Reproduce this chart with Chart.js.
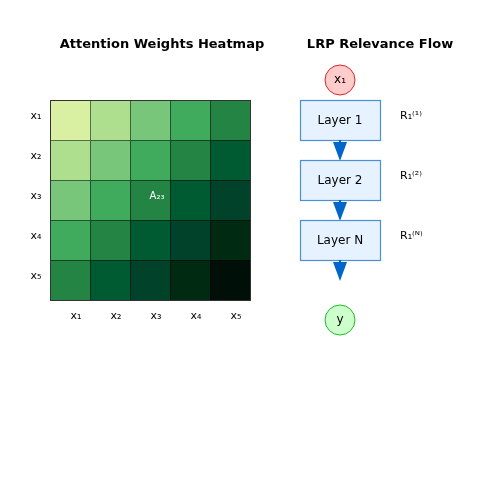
<!DOCTYPE html><html><head><meta charset="utf-8">
<script src="https://cdn.jsdelivr.net/npm/chart.js@4/dist/chart.umd.min.js"></script>
<style>html,body{margin:0;padding:0;background:#fff}#c{width:500px;height:500px;display:block}</style>
</head><body><canvas id="c" width="500" height="500"></canvas>
<script>
const tokens=['x₁','x₂','x₃','x₄','x₅'];
const weights=[[0,1,2,3,4],[1,2,3,4,5],[2,3,4,5,6],[3,4,5,6,7],[4,5,6,7,8]];
const palette=['#d9f0a3','#addf8e','#78c679','#41ab5d','#238443','#005a32','#00432a','#002a12','#000f08'];
const layers=['Layer 1','Layer 2','Layer N'];
const relevance=['R₁⁽¹⁾','R₁⁽²⁾','R₁⁽ᴺ⁾'];
const F='"DejaVu Sans", sans-serif';
const draw={id:'draw',afterDraw(ch){
 const c=ch.ctx,X=v=>ch.scales.x.getPixelForValue(v),Y=v=>ch.scales.y.getPixelForValue(v);
 c.save();
 c.fillStyle='#000';c.textAlign='center';c.textBaseline='middle';
 c.font='bold 13px '+F;c.fillText('Attention Weights Heatmap',X(162),Y(45));c.fillText('LRP Relevance Flow',X(380),Y(45));
 const x0=50,y0=100,s=40;
 for(let i=0;i<5;i++)for(let j=0;j<5;j++){
  c.fillStyle=palette[weights[i][j]];c.fillRect(X(x0+j*s),Y(y0+i*s),s,s);
  c.strokeStyle='rgba(0,0,0,0.5)';c.lineWidth=1;c.strokeRect(X(x0+j*s)+0.5,Y(y0+i*s)+0.5,s,s);
 }
 c.strokeStyle='#333';c.strokeRect(X(x0)+0.5,Y(y0)+0.5,200,200);
 c.font='11px '+F;c.fillStyle='#000';
 tokens.forEach((t,k)=>{c.fillText(t,X(76+k*s),Y(316));c.fillText(t,X(36),Y(116+k*s));});
 c.fillStyle='#fff';c.font='10px '+F;c.fillText('A₂₃',X(157),Y(196));
 // circles
 const circ=(cx,cy,f,st,t)=>{c.beginPath();c.arc(X(cx),Y(cy),15,0,7);c.fillStyle=f;c.fill();c.strokeStyle=st;c.lineWidth=1;c.stroke();c.fillStyle='#000';c.font='12px '+F;c.fillText(t,X(cx),Y(cy));};
 circ(340,80,'#ffcccc','#dd2222','x₁');circ(340,320,'#ccffcc','#22bb22','y');
 layers.forEach((l,k)=>{const by=100+k*60;
  c.fillStyle='#e6f2ff';c.fillRect(X(300),Y(by),80,40);c.strokeStyle='#4a90d9';c.lineWidth=1.2;c.strokeRect(X(300)+0.5,Y(by)+0.5,80,40);
  c.fillStyle='#000';c.font='12px '+F;c.fillText(l,X(340),Y(by+21));
  c.textAlign='left';c.font='11px '+F;c.fillText(relevance[k],X(400),Y(by+16));c.textAlign='center';
  // arrow
  c.fillStyle='#0066cc';c.fillRect(X(339),Y(by+40),2,4);
  c.beginPath();c.moveTo(X(333),Y(by+42));c.lineTo(X(347),Y(by+42));c.lineTo(X(340),Y(by+61));c.closePath();c.fill();
 });
 c.restore();}};
new Chart(document.getElementById('c'),{type:'scatter',data:{datasets:[{data:[]}]},
 options:{responsive:false,animation:false,layout:{padding:0},plugins:{legend:{display:false},tooltip:{enabled:false}},
 scales:{x:{type:'linear',min:0,max:500,display:false},y:{type:'linear',min:0,max:500,reverse:true,display:false}}},plugins:[draw]});
</script></body></html>
